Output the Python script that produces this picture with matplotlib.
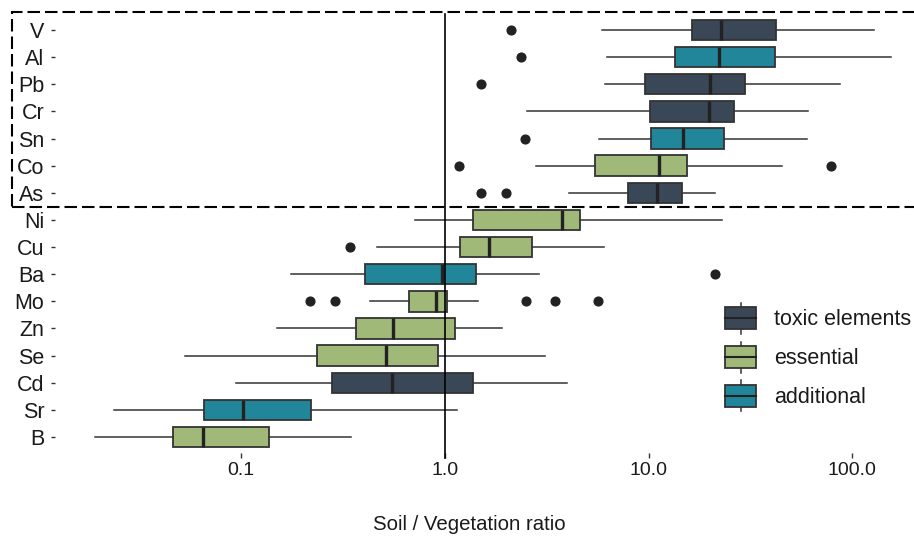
import numpy as np
import matplotlib
matplotlib.use("Agg")
import matplotlib.pyplot as plt
from matplotlib.patches import Rectangle
from matplotlib.lines import Line2D
from matplotlib.legend_handler import HandlerBase

plt.rcParams['font.family'] = ['Liberation Sans', 'DejaVu Sans']

# ---------------- data ----------------
elements = ["V", "Al", "Pb", "Cr", "Sn", "Co", "As", "Ni", "Cu", "Ba", "Mo", "Zn", "Se", "Cd", "Sr", "B"]
groups = ["toxic elements", "additional", "toxic elements", "toxic elements", "additional", "essential",
          "toxic elements", "essential", "essential", "additional", "essential", "essential", "essential",
          "toxic elements", "additional", "essential"]
whislo = [5.9, 6.27, 6.09, 2.54, 5.67, 2.80, 4.04, 0.713, 0.466, 0.175, 0.429, 0.150, 0.0531, 0.0942, 0.0238, 0.0191]
q1     = [16.4, 13.4, 9.59, 10.2, 10.3, 5.48, 7.92, 1.37, 1.18, 0.405, 0.666, 0.365, 0.236, 0.278, 0.0659, 0.0463]
med    = [22.7, 22.1, 20.1, 19.8, 14.8, 11.2, 11.0, 3.74, 1.65, 0.963, 0.903, 0.554, 0.512, 0.550, 0.102, 0.0646]
q3     = [42.4, 41.5, 29.7, 26.2, 23.5, 15.4, 14.5, 4.62, 2.67, 1.42, 1.02, 1.12, 0.921, 1.37, 0.219, 0.136]
whishi = [127, 155, 86.6, 60.4, 60.0, 45.2, 21.2, 23.0, 6.02, 2.88, 1.45, 1.91, 3.08, 3.95, 1.15, 0.346]
outliers = [[2.11], [2.35], [1.51], [], [2.47], [1.17, 78.6], [1.51, 2.0], [], [0.341], [21.2],
            [0.218, 0.288, 2.50, 3.45, 5.64], [], [], [], [], []]
legend_order = ["toxic elements", "essential", "additional"]
palette = {"toxic elements": "#3a4757", "essential": "#a0b878", "additional": "#21869a"}
xticks = [0.1, 1.0, 10.0, 100.0]
xticklabels = ["0.1", "1.0", "10.0", "100.0"]
xlabel = "Soil / Vegetation ratio"

# ---------------- figure ----------------
W, H = 914, 538
fig = plt.figure(figsize=(W / 100, H / 100), dpi=100)

def fx(px):
    return px / W

def fy(py):
    return 1 - py / H

left_px, right_px = 54.5, 914
top_px, bot_px = 13.7, 453.3
ax = fig.add_axes([fx(left_px), fy(bot_px), fx(right_px - left_px), (bot_px - top_px) / H])

EDGE = "#333333"
MEDC = "#222222"

n = len(elements)
positions = np.arange(n)
stats = []
for i in range(n):
    stats.append(dict(whislo=whislo[i], q1=q1[i], med=med[i], q3=q3[i], whishi=whishi[i],
                      fliers=np.array(outliers[i]), label=elements[i]))

bp = ax.bxp(stats, positions=positions, widths=0.75, orientation='horizontal', patch_artist=True,
            showcaps=False,
            boxprops=dict(edgecolor=EDGE, linewidth=1.3),
            medianprops=dict(color=MEDC, linewidth=2.4, solid_capstyle='butt'),
            whiskerprops=dict(color=EDGE, linewidth=1.1),
            flierprops=dict(marker='o', markerfacecolor='#222222', markeredgecolor='#222222',
                            markersize=6.3, linestyle='none'))
for patch, g in zip(bp['boxes'], groups):
    patch.set_facecolor(palette[g])

ax.set_xscale('log')
x0 = 10 ** ((left_px - 445) / 203.7)
x1 = 10 ** ((right_px - 445) / 203.7)
ax.set_xlim(x0, x1)
ax.set_ylim(n - 1 + 0.6, -0.6)

ax.axvline(1.0, ymin=-0.011, ymax=1.0, color='black', linewidth=1.2, zorder=5, clip_on=False)

ax.set_xticks(xticks)
ax.set_xticklabels(xticklabels)
ax.xaxis.set_minor_locator(matplotlib.ticker.NullLocator())
ax.set_yticks(positions)
ax.set_yticklabels(elements)
ax.tick_params(axis='y', length=3.2, width=1.0, color='#333333', pad=4.0, labelsize=15.5, labelcolor='#1a1a1a')
ax.tick_params(axis='x', length=3.6, width=1.0, color='#333333', pad=2.5, labelsize=14, labelcolor='#1a1a1a')
for s in ax.spines.values():
    s.set_visible(False)
ax.set_facecolor('white')

fig.text(fx(469), fy(525), xlabel, ha='center', va='center', fontsize=14.7, color='#1a1a1a')

# dashed highlight rectangle (figure pixel coords)
rect = Rectangle((fx(12), fy(206.7)), fx(930 - 12), (206.7 - 11.7) / H, transform=fig.transFigure,
                 fill=False, edgecolor='black', linewidth=1.5, linestyle=(0, (6, 2.4)), clip_on=False)
fig.add_artist(rect)

# ---------------- legend ----------------
class BoxKeyHandler(HandlerBase):
    def create_artists(self, legend, orig_handle, xdescent, ydescent, width, height, fontsize, trans):
        fc = orig_handle.get_facecolor()
        xa = -xdescent
        ya = -ydescent
        bh = height * 0.7
        by = ya + (height - bh) / 2
        cx = xa + width / 2
        wl = Line2D([cx, cx], [ya, by], color=EDGE, linewidth=1.1, transform=trans)
        wh = Line2D([cx, cx], [by + bh, ya + height], color=EDGE, linewidth=1.1, transform=trans)
        r = Rectangle((xa, by), width, bh, facecolor=fc, edgecolor=EDGE, linewidth=1.3, transform=trans)
        m = Line2D([xa, xa + width], [ya + height / 2] * 2, color=MEDC, linewidth=1.5, transform=trans)
        return [wl, wh, r, m]

handles = [Rectangle((0, 0), 1, 1, facecolor=palette[g]) for g in legend_order]
fs = 15.5
fs_px = fs * 100 / 72
key_h = 31.0
hh = (key_h / fs_px - 0.245) / 0.65
leg = fig.legend(handles, legend_order, handler_map={Rectangle: BoxKeyHandler()},
                 loc='upper left', bbox_to_anchor=(fx(725.3), fy(302.8)), bbox_transform=fig.transFigure,
                 frameon=False, fontsize=fs, borderpad=0, borderaxespad=0,
                 handlelength=30.7 / fs_px, handleheight=hh,
                 labelspacing=(38.8 - key_h) / fs_px, handletextpad=18 / fs_px)
for t in leg.get_texts():
    t.set_color('#1a1a1a')

fig.savefig("out.png", dpi=100, facecolor='white')
